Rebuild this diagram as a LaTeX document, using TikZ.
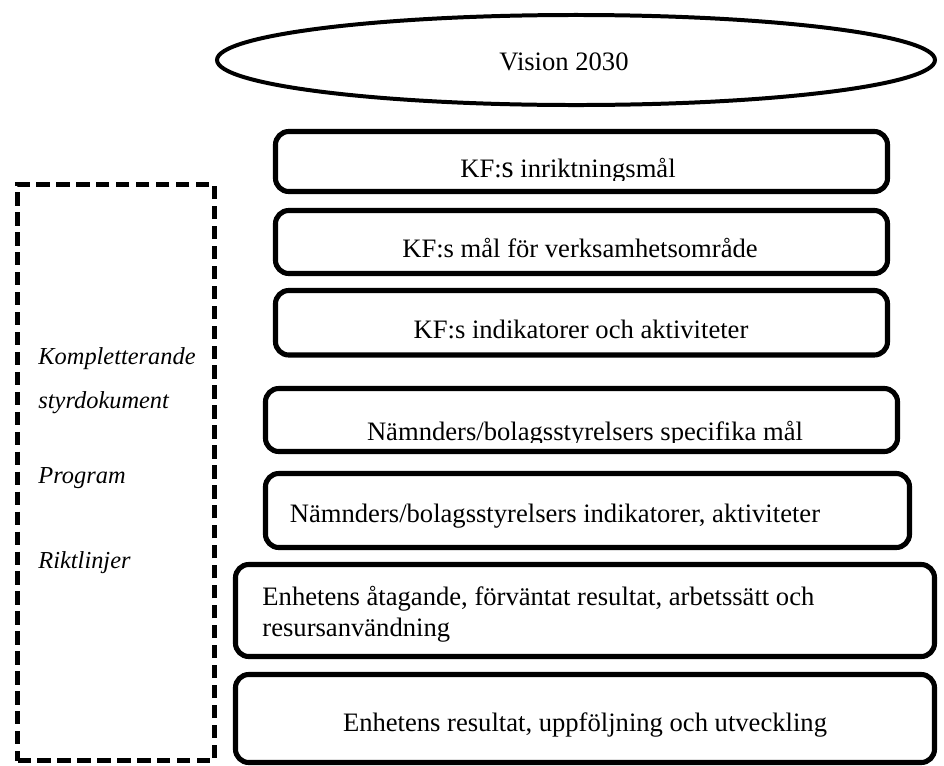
\documentclass[tikz,border=0pt]{standalone}
\usepackage{fontspec}
\setmainfont{Liberation Serif}
\usetikzlibrary{fit,shapes.geometric}

\begin{document}
\begin{tikzpicture}[x=0.451pt,y=-0.451pt,
  every node/.style={font=\fontsize{12}{12}\selectfont},
  niva/.style={draw, line width=2.3pt, rounded corners=6pt, inner sep=0pt},
  txt/.style={anchor=base, inner sep=0pt},
  styr/.style={anchor=base west, inner sep=0pt, font=\fontsize{11}{11}\selectfont\itshape}]
  \useasboundingbox (0,0) rectangle (944,766);

  % vision
  \node[ellipse, draw, line width=1.8pt, minimum width=323.8pt, minimum height=40.6pt, inner sep=0pt] (vision) at (576,60) {};
  \node[txt] (visiontxt) at (564,70) {Vision 2030};

  % nivaer
  \node[niva, fit={(275.5,131.5) (887.5,191.5)}] (inrikt) {};
  \node[niva, fit={(275.5,210.5) (887.5,273.5)}] (kfmal) {};
  \node[niva, fit={(275.5,290.5) (887.5,355)}] (kfind) {};
  \node[niva, fit={(265.5,388.5) (897.5,451.5)}] (nmdmal) {};
  \node[niva, fit={(265.5,473.5) (909.5,547.5)}] (nmdind) {};
  \node[niva, fit={(235.5,564.5) (934.5,656.5)}] (enhatag) {};
  \node[niva, fit={(235.5,674.5) (934.5,762.5)}] (enhres) {};

  \begin{scope}
    \clip (273,129) rectangle (890,180);
    \node[txt] (inrikttxt) at (568,177) {KF:{\fontsize{14}{14}\selectfont s} inriktningsmål};
  \end{scope}
  \node[txt] (kfmaltxt) at (580,257) {KF:s mål för verksamhetsområde};
  \node[txt] (kfindtxt) at (581,338) {KF:s indikatorer och aktiviteter};
  \begin{scope}
    \clip (263,386) rectangle (900,442);
    \node[txt] (nmdmaltxt) at (585,440) {Nämnders/bolagsstyrelsers specifika mål};
  \end{scope}
  \node[txt] (nmdindtxt) at (555,522) {Nämnders/bolagsstyrelsers indikatorer, aktiviteter};
  \node[anchor=north west, inner sep=0pt, align=left, font=\fontsize{12}{13.8}\selectfont] (enhatagtxt) at (262,586)
    {Enhetens åtagande, förväntat resultat, arbetssätt och\\resursanvändning};
  \node[txt] (enhrestxt) at (585,731) {Enhetens resultat, uppföljning och utveckling};

  % kompletterande
  \node[draw, dashed, line width=2.2pt, dash pattern=on 6pt off 3pt, inner sep=0pt,
    fit={(17.5,184.5) (214.5,760.5)}] (ram) {};
  \node[styr] (komp) at (38,364) {Kompletterande};
  \node[styr] (styrdok) at (38,408) {styrdokument};
  \node[styr] (prog) at (38,483) {Program};
  \node[styr] (riktl) at (38,568) {Riktlinjer};
\end{tikzpicture}
\end{document}
